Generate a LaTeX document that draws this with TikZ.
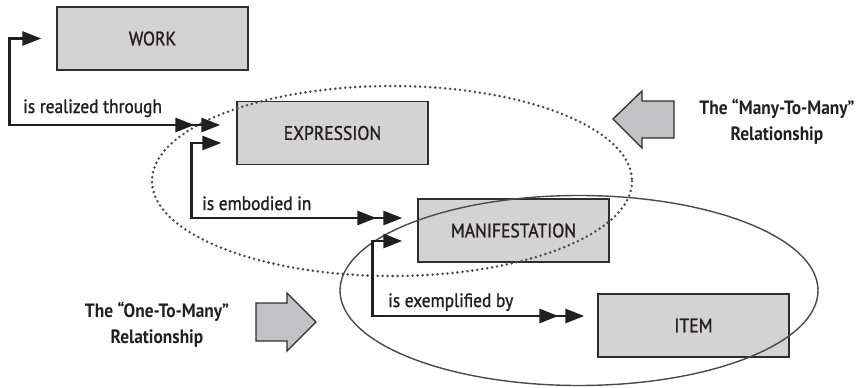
\documentclass[tikz,border=0pt]{standalone}
\usepackage{fontspec}
\setmainfont{PT Sans}[FakeStretch=0.9, FakeBold=1.2, BoldFeatures={FakeBold=0}]
\usetikzlibrary{arrows.meta,calc}
\definecolor{boxfill}{HTML}{D3D3D3}
\definecolor{boxline}{HTML}{2E2E2E}
\definecolor{txt}{HTML}{231F20}
\definecolor{ellcol}{HTML}{4A4A4A}
\definecolor{bigarrow}{HTML}{C2C2C4}
\begin{document}
\begin{tikzpicture}[x=1pt,y=-1pt,
  box/.style={draw=boxline, fill=boxfill, line width=1.4pt, minimum width=191pt, minimum height=63pt, inner sep=0pt, font=\fontsize{19.5}{20}\selectfont, text=txt},
  conn/.style={line width=2.8pt, draw=txt},
  lbl/.style={anchor=base west, inner sep=0pt, font=\fontsize{19.3}{20}\selectfont, text=txt},
  rel/.style={align=center, inner sep=0pt, font=\bfseries\fontsize{19.3}{26}\selectfont, text=txt},
  blockarrow/.style={draw=boxline, fill=bigarrow, line width=1.3pt, line join=miter},
  dotell/.style={draw=ellcol, line width=2.8pt, line cap=round, dash pattern=on 0pt off 5pt},
  solell/.style={draw=ellcol, line width=1.4pt}
]
\useasboundingbox (0,0) rectangle (863,388);

% boxes
\node[box] (work) at (152.5,38.5) {WORK};
\node[box] (expr) at (332.5,133) {EXPRESSION};
\node[box] (manif) at (513.5,230.5) {MANIFESTATION};
\node[box] (item) at (693.5,325.5) {ITEM};

% ellipses
\draw[dotell] (392,181) ellipse [x radius=240, y radius=95];
\draw[solell] (579,290.5) ellipse [x radius=239, y radius=95];

% connectors
\draw[conn, {Triangle[length=19pt,width=14pt]}-{Triangle[length=19pt,width=14pt,sep=7pt]Triangle[length=19pt,width=14pt]}]
  ([xshift=-15pt]work.west) -- ++(-32,0) |- ([xshift=-16pt,yshift=8pt]expr.west);
\draw[conn, {Triangle[length=19pt,width=14pt]}-{Triangle[length=19pt,width=14pt,sep=7pt]Triangle[length=19pt,width=14pt]}]
  ([xshift=-15pt,yshift=-10pt]expr.west) -- ++(-30,0) |- ([xshift=-15pt,yshift=12.5pt]manif.west);
\draw[conn, {Triangle[length=19pt,width=14pt]}-{Triangle[length=19pt,width=14pt,sep=7pt]Triangle[length=19pt,width=14pt]}]
  ([xshift=-15pt,yshift=-10.5pt]manif.west) -- ++(-30,0) |- ([xshift=-13pt,yshift=9.5pt]item.west);

% labels
\node[lbl] (l1) at (23,113) {is realized through};
\node[lbl] (l2) at (202,210) {is embodied in};
\node[lbl] (l3) at (388,307) {is exemplified by};

% block arrows
\draw[blockarrow] (613,119) -- (642,91) -- (642,101) -- (674,101) -- (674,138) -- (642,138) -- (642,148) -- cycle;
\draw[blockarrow] (316,322) -- (287,293) -- (287,303) -- (256,303) -- (256,341) -- (287,341) -- (287,351) -- cycle;

\node[rel] (m2m) at (777,122) {The “Many-To-Many”\\Relationship};
\node[rel] (o2m) at (157,325) {The “One-To-Many”\\Relationship};
\end{tikzpicture}
\end{document}
